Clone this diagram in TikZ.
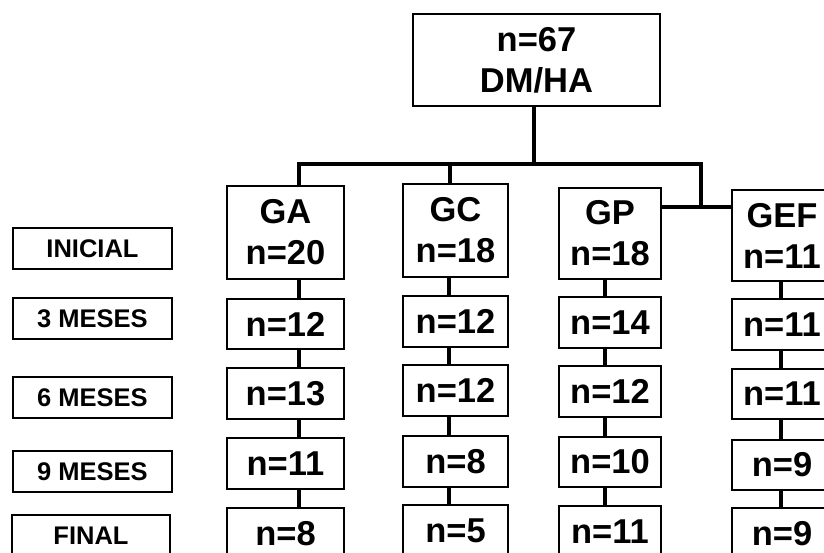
\documentclass[tikz,border=0pt]{standalone}
\usepackage{fontspec}
\setmainfont{Liberation Sans}
\usetikzlibrary{backgrounds}
\tikzset{
  cell/.style={draw, line width=1.8pt, fill=white, inner sep=0pt, align=center,
    font=\fontsize{34.5}{41}\selectfont\bfseries},
  tag/.style={draw, line width=1.8pt, fill=white, inner sep=0pt,
    minimum height=41pt, font=\fontsize{25.5}{28}\selectfont\bfseries},
  link/.style={line width=4pt, line cap=rect, line join=miter},
}
\begin{document}
\begin{tikzpicture}[x=1pt, y=-1pt]
\useasboundingbox (0,0) rectangle (824,553);
\clip (0,0) rectangle (824,553);

% root
\node[cell, minimum width=247pt, minimum height=92pt] (top) at (536.5,60) {n=67\\DM/HA};

% time-point labels
\node[tag, minimum width=159pt] (l0) at (92.5,248.5) {INICIAL};
\node[tag, minimum width=159pt] (l1) at (92.5,318.5) {3 MESES};
\node[tag, minimum width=159pt] (l2) at (92.5,397.5) {6 MESES};
\node[tag, minimum width=159pt] (l3) at (92.5,471.5) {9 MESES};
\node[tag, minimum width=158pt] (l4) at (91,535.5) {FINAL};

% GA column
\node[cell, minimum width=117pt, minimum height=93pt] (ga0) at (285.5,232.5) {GA\\n=20};
\node[cell, minimum width=117pt, minimum height=50pt] (ga1) at (285.5,324) {n=12};
\node[cell, minimum width=117pt, minimum height=51pt] (ga2) at (285.5,393.5) {n=13};
\node[cell, minimum width=117pt, minimum height=51pt] (ga3) at (285.5,463.5) {n=11};
\node[cell, minimum width=117pt, minimum height=51pt] (ga4) at (285.5,533.5) {n=8};

% GC column
\node[cell, minimum width=105pt, minimum height=93pt] (gc0) at (455.5,230.5) {GC\\n=18};
\node[cell, minimum width=105pt, minimum height=51pt] (gc1) at (455.5,321.5) {n=12};
\node[cell, minimum width=105pt, minimum height=51pt] (gc2) at (455.5,390.5) {n=12};
\node[cell, minimum width=105pt, minimum height=51pt] (gc3) at (455.5,461.5) {n=8};
\node[cell, minimum width=105pt, minimum height=51pt] (gc4) at (455.5,530.5) {n=5};

% GP column
\node[cell, minimum width=102pt, minimum height=91pt] (gp0) at (610,233.5) {GP\\n=18};
\node[cell, minimum width=102pt, minimum height=51pt] (gp1) at (610,322.5) {n=14};
\node[cell, minimum width=102pt, minimum height=51pt] (gp2) at (610,391.5) {n=12};
\node[cell, minimum width=102pt, minimum height=50pt] (gp3) at (610,462) {n=10};
\node[cell, minimum width=102pt, minimum height=51pt] (gp4) at (610,531.5) {n=11};

% GEF column
\node[cell, minimum width=100pt, minimum height=91pt] (gef0) at (782,235.5) {GEF\\n=11};
\node[cell, minimum width=100pt, minimum height=51pt] (gef1) at (782,324.5) {n=11};
\node[cell, minimum width=100pt, minimum height=50pt] (gef2) at (782,394) {n=11};
\node[cell, minimum width=100pt, minimum height=50pt] (gef3) at (782,465) {n=9};
\node[cell, minimum width=100pt, minimum height=51pt] (gef4) at (782,533.5) {n=9};

% bus points and column line positions
\coordinate (bT) at (534,164);
\coordinate (bL) at (299,164);
\coordinate (bC) at (450,164);
\coordinate (bR) at (701,164);
\coordinate (bE) at (701,207);
\coordinate (xA) at (299,0);
\coordinate (xC) at (449,0);
\coordinate (xP) at (605,0);
\coordinate (xE) at (781,0);

\begin{scope}[on background layer]
  \draw[link] (top.south -| bT) -- (bT);
  \draw[link] (bL) -- (bR) -- (bE);
  \draw[link] (bL) -- (ga0.north -| bL);
  \draw[link] (bC) -- (gc0.north -| bC);
  \draw[link] (gp0.east |- bE) -- (gef0.west |- bE);
  \foreach \c/\x in {ga/xA, gc/xC, gp/xP, gef/xE}{
    \foreach \i [evaluate=\i as \j using int(\i+1)] in {0,...,3}{
      \draw[link] (\c\i.south -| \x) -- (\c\j.north -| \x);
    }
  }
\end{scope}
\end{tikzpicture}
\end{document}
